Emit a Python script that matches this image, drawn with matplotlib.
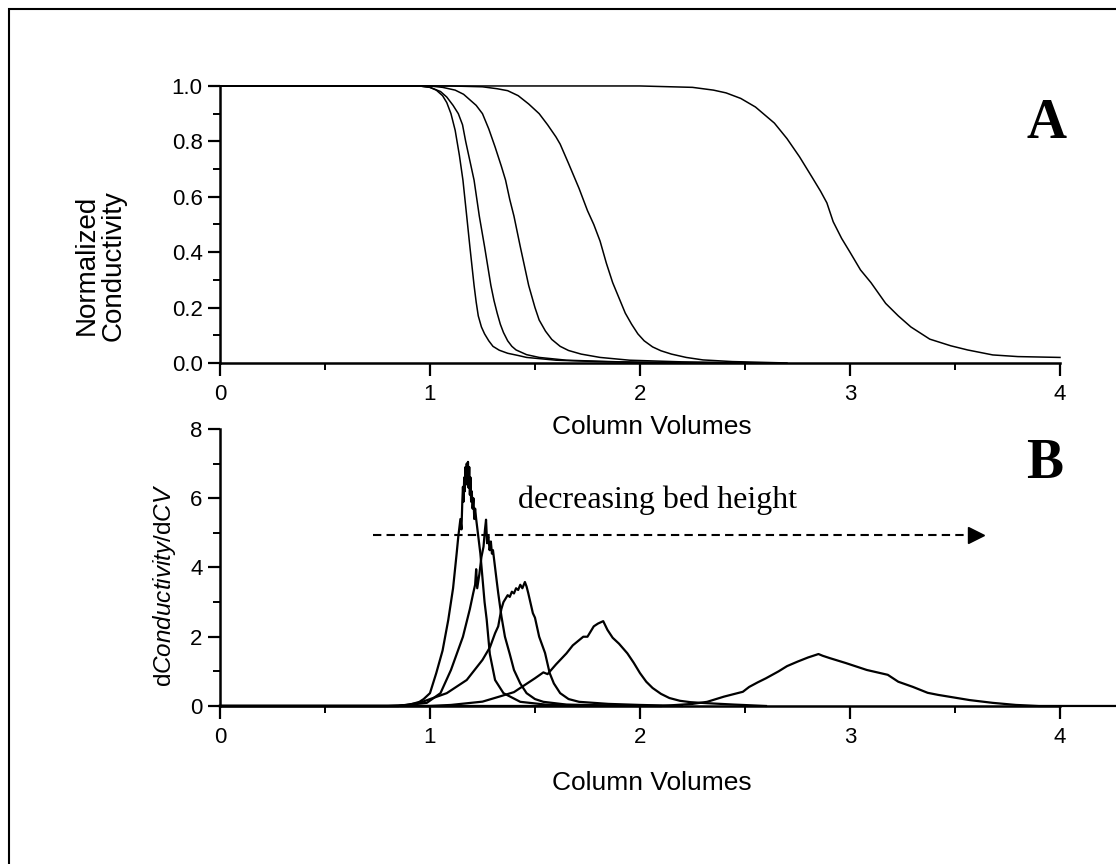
import matplotlib
matplotlib.use("Agg")
import matplotlib.pyplot as plt
from matplotlib.patches import Rectangle
from matplotlib.ticker import MultipleLocator

plt.rcParams['font.family'] = ['Liberation Sans', 'DejaVu Sans']
plt.rcParams['mathtext.fontset'] = 'custom'
plt.rcParams['mathtext.rm'] = 'Liberation Sans'
plt.rcParams['mathtext.it'] = 'Liberation Sans:italic'

## Panel A: normalized conductivity breakthrough curves
a1_x = [0.0, 0.95, 1.00, 1.03, 1.06, 1.08, 1.10, 1.12, 1.14, 1.157, 1.175, 1.19, 1.20, 1.21, 1.22, 1.23,
        1.245, 1.26, 1.28, 1.30, 1.33, 1.37, 1.42, 1.46, 1.60, 1.80, 2.0, 2.5]
a1_y = [1.0, 1.0, 0.995, 0.985, 0.965, 0.94, 0.90, 0.84, 0.75, 0.66, 0.53, 0.42, 0.35, 0.28, 0.22, 0.17,
        0.13, 0.105, 0.08, 0.06, 0.046, 0.035, 0.027, 0.02, 0.01, 0.005, 0.002, 0.0]

a2_x = [0.0, 0.95, 1.00, 1.05, 1.08, 1.11, 1.135, 1.155, 1.17, 1.19, 1.21, 1.235, 1.26, 1.275, 1.29, 1.305,
        1.32, 1.335, 1.35, 1.37, 1.39, 1.41, 1.46, 1.52, 1.65, 1.9, 2.3]
a2_y = [1.0, 1.0, 0.995, 0.98, 0.96, 0.93, 0.90, 0.86, 0.80, 0.73, 0.66, 0.53, 0.42, 0.35, 0.28, 0.225,
        0.18, 0.14, 0.11, 0.08, 0.06, 0.047, 0.03, 0.02, 0.01, 0.004, 0.0]

a3_x = [0.0, 1.0, 1.06, 1.12, 1.16, 1.19, 1.22, 1.25, 1.28, 1.31, 1.34, 1.36, 1.38, 1.40, 1.43, 1.45,
        1.47, 1.50, 1.52, 1.55, 1.58, 1.62, 1.66, 1.72, 1.81, 1.95, 2.2, 2.6]
a3_y = [1.0, 1.0, 0.995, 0.985, 0.97, 0.95, 0.93, 0.90, 0.845, 0.78, 0.71, 0.66, 0.59, 0.53, 0.42, 0.35,
        0.28, 0.20, 0.155, 0.115, 0.085, 0.06, 0.045, 0.032, 0.02, 0.01, 0.004, 0.0]

a4_x = [0.0, 1.10, 1.25, 1.32, 1.37, 1.42, 1.47, 1.52, 1.56, 1.60, 1.62, 1.66, 1.71, 1.75, 1.78, 1.81, 1.84,
        1.87, 1.90, 1.93, 1.96, 1.99, 2.02, 2.06, 2.10, 2.15, 2.22, 2.30, 2.44, 2.7]
a4_y = [1.0, 1.0, 0.997, 0.99, 0.983, 0.965, 0.935, 0.90, 0.86, 0.816, 0.79, 0.72, 0.63, 0.55, 0.50, 0.44, 0.36,
        0.29, 0.235, 0.18, 0.14, 0.105, 0.08, 0.058, 0.044, 0.032, 0.02, 0.011, 0.005, 0.0]

a5_x = [0.0, 2.0, 2.25, 2.35, 2.41, 2.48, 2.55, 2.64, 2.70, 2.76, 2.82, 2.86, 2.89, 2.92, 2.96, 3.00, 3.05, 3.10,
        3.17, 3.23, 3.29, 3.38, 3.48, 3.56, 3.68, 3.80, 4.0]
a5_y = [1.0, 1.0, 0.995, 0.985, 0.975, 0.955, 0.924, 0.866, 0.81, 0.744, 0.67, 0.62, 0.578, 0.51, 0.45, 0.40, 0.336, 0.29,
        0.215, 0.17, 0.13, 0.086, 0.062, 0.047, 0.029, 0.023, 0.02]

## Panel B: derivative curves
b1_x = [0.0, 0.80, 0.90, 0.95, 0.97, 1.00, 1.03, 1.06, 1.087, 1.11, 1.127, 1.135, 1.145, 1.150, 1.154, 1.157,
        1.160, 1.163, 1.166, 1.169, 1.172, 1.175, 1.178, 1.181, 1.184, 1.187, 1.190, 1.193, 1.196, 1.199,
        1.203, 1.207, 1.211, 1.215, 1.22, 1.24, 1.26, 1.27, 1.285, 1.31, 1.35, 1.43, 1.55, 1.8, 2.0]
b1_y = [0.0, 0.0, 0.03, 0.12, 0.2, 0.37, 0.95, 1.6, 2.48, 3.4, 4.4, 4.9, 5.4, 5.1, 5.9, 6.33,
        5.9, 6.6, 6.2, 6.9, 6.4, 7.0, 6.6, 7.05, 6.3, 6.9, 6.1, 6.6, 5.9, 6.2,
        5.7, 6.0, 5.4, 5.7, 5.4, 4.4, 3.0, 2.5, 1.5, 0.75, 0.37, 0.12, 0.04, 0.01, 0.0]

b2_x = [0.0, 0.85, 0.985, 1.05, 1.10, 1.157, 1.19, 1.206, 1.215, 1.22, 1.225, 1.235, 1.245, 1.255, 1.262, 1.267,
        1.272, 1.278, 1.284, 1.29, 1.295, 1.30, 1.31, 1.318, 1.325, 1.34, 1.357, 1.38, 1.40, 1.43, 1.46, 1.50, 1.54, 1.65, 1.9, 2.1]
b2_y = [0.0, 0.0, 0.09, 0.37, 1.04, 2.0, 2.8, 3.26, 3.5, 3.95, 3.4, 3.8, 4.3, 4.6, 5.1, 5.38,
        4.7, 4.9, 4.5, 4.75, 4.4, 4.5, 4.0, 3.6, 3.26, 2.6, 2.0, 1.5, 1.04, 0.65, 0.37, 0.2, 0.12, 0.04, 0.01, 0.0]

b3_x = [0.0, 0.85, 0.95, 1.08, 1.175, 1.25, 1.286, 1.31, 1.325, 1.34, 1.35, 1.36, 1.37, 1.38, 1.39, 1.40, 1.41, 1.42, 1.43,
        1.44, 1.452, 1.46, 1.468, 1.49, 1.50, 1.52, 1.548, 1.57, 1.59, 1.62, 1.66, 1.71, 1.85, 2.0, 2.2]
b3_y = [0.0, 0.0, 0.09, 0.37, 0.75, 1.33, 1.7, 2.1, 2.3, 2.8, 3.0, 3.1, 3.2, 3.15, 3.3, 3.25, 3.4, 3.35, 3.5,
        3.4, 3.58, 3.45, 3.26, 2.68, 2.55, 2.0, 1.53, 0.95, 0.65, 0.37, 0.2, 0.12, 0.06, 0.03, 0.0]

b4_x = [0.0, 1.00, 1.10, 1.25, 1.33, 1.40, 1.45, 1.50, 1.54, 1.56, 1.60, 1.65, 1.68, 1.71, 1.73, 1.75, 1.78, 1.80, 1.825,
        1.845, 1.87, 1.90, 1.94, 1.97, 2.00, 2.03, 2.06, 2.10, 2.14, 2.19, 2.24, 2.32, 2.45, 2.6]
b4_y = [0.0, 0.0, 0.03, 0.125, 0.27, 0.4, 0.6, 0.8, 0.97, 0.92, 1.2, 1.52, 1.75, 1.9, 2.0, 2.0, 2.3, 2.38, 2.45,
        2.2, 1.97, 1.8, 1.52, 1.25, 0.95, 0.7, 0.52, 0.35, 0.23, 0.15, 0.11, 0.08, 0.04, 0.0]

b5_x = [0.0, 2.10, 2.25, 2.32, 2.40, 2.49, 2.52, 2.56, 2.60, 2.66, 2.70, 2.75, 2.80, 2.85, 2.87, 2.905, 2.98, 3.08,
        3.18, 3.23, 3.30, 3.37, 3.42, 3.48, 3.57, 3.68, 3.79, 3.90, 4.27]
b5_y = [0.0, 0.0, 0.06, 0.12, 0.27, 0.41, 0.55, 0.68, 0.80, 1.0, 1.15, 1.28, 1.4, 1.5, 1.45, 1.38, 1.24, 1.04,
        0.9, 0.7, 0.55, 0.38, 0.32, 0.26, 0.17, 0.09, 0.03, 0.0, 0.0]

curves_a = [(a1_x, a1_y), (a2_x, a2_y), (a3_x, a3_y), (a4_x, a4_y), (a5_x, a5_y)]
curves_b = [(b1_x, b1_y), (b2_x, b2_y), (b3_x, b3_y), (b4_x, b4_y), (b5_x, b5_y)]

fig = plt.figure(figsize=(11.16, 8.64), dpi=100)
ax1 = fig.add_axes([0.1971, 0.5799, 0.7527, 0.3206])
ax2 = fig.add_axes([0.1971, 0.1829, 0.7527, 0.3206])

# outer frame (cropped on the right and bottom)
fig.add_artist(Rectangle((9/1116, -0.2), 1.5, 1.2 - 9/864, transform=fig.transFigure,
                         fill=False, edgecolor='black', linewidth=1.5))

for x, y in curves_a:
    ax1.plot(x, y, color='black', linewidth=1.1, clip_on=False)
for x, y in curves_b:
    ax2.plot(x, y, color='black', linewidth=1.6, clip_on=False)

for ax in (ax1, ax2):
    ax.set_xlim(0, 4)
    ax.spines['top'].set_visible(False)
    ax.spines['right'].set_visible(False)
    ax.spines['left'].set_linewidth(1.8)
    ax.spines['bottom'].set_linewidth(1.8)
    ax.xaxis.set_major_locator(MultipleLocator(1))
    ax.xaxis.set_minor_locator(MultipleLocator(0.5))
    ax.tick_params(which='major', direction='out', length=9, width=1.6, labelsize=16, pad=6)
    ax.tick_params(which='minor', direction='out', length=5, width=1.4)
    ax.tick_params(axis='y', which='major', pad=3.5)

ax1.set_ylim(0, 1.0)
ax1.yaxis.set_major_locator(MultipleLocator(0.2))
ax1.yaxis.set_minor_locator(MultipleLocator(0.1))
ax1.yaxis.set_major_formatter(plt.FormatStrFormatter('%.1f'))

ax2.set_ylim(0, 8)
ax2.yaxis.set_major_locator(MultipleLocator(2))
ax2.yaxis.set_minor_locator(MultipleLocator(1))

# labels
fig.text(0.0896, 0.693, "Normalized\nConductivity", rotation=90, ha='center', va='center',
         fontsize=20, linespacing=1.05)
fig.text(0.147, 0.3229, r"d$\mathit{Conductivity}$/d$\mathit{CV}$", rotation=90,
         ha='center', va='center', fontsize=17.5)
fig.text(0.584, 0.5058, "Column Volumes", ha='center', va='center', fontsize=19)
fig.text(0.584, 0.0938, "Column Volumes", ha='center', va='center', fontsize=19)

fig.text(0.938, 0.8565, "A", ha='center', va='center', fontsize=40, fontweight='bold',
         family='Liberation Serif')
fig.text(0.936, 0.4624, "B", ha='center', va='center', fontsize=40, fontweight='bold',
         family='Liberation Serif')

# annotation: dashed arrow
ax2.text(1.42, 5.72, "decreasing bed height", ha='left', va='baseline', fontsize=23,
         family='Liberation Serif')
ax2.plot([0.73, 3.56], [4.95, 4.95], color='black', linewidth=1.5, dashes=(4, 2.5))
ax2.plot([3.60], [4.95], marker='>', markersize=12, color='black', linestyle='none')

plt.savefig("out.png", dpi=100)
plt.close()
